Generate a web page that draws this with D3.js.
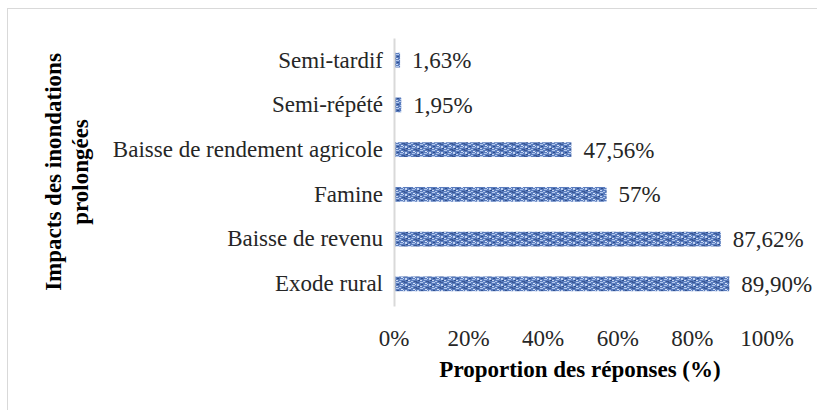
<!DOCTYPE html>
<html>
<head>
<meta charset="utf-8">
<script src="https://cdn.jsdelivr.net/npm/d3@7"></script>
<style>
  body { margin: 0; background: #fff; }
</style>
</head>
<body>
<div id="chart"></div>
<script>
// data
const categories = ["Semi-tardif", "Semi-répété", "Baisse de rendement agricole", "Famine", "Baisse de revenu", "Exode rural"];
const values = [1.63, 1.95, 47.56, 57, 87.62, 89.90];
const valueLabels = ["1,63%", "1,95%", "47,56%", "57%", "87,62%", "89,90%"];
const ticks = [0, 20, 40, 60, 80, 100];

const width = 817, height = 410;
const font = "'Liberation Serif', 'Times New Roman', serif";
const fs = 23;

const svg = d3.select("#chart").append("svg")
  .attr("width", width)
  .attr("height", height)
  .attr("font-family", font);

// chart area border
svg.append("rect")
  .attr("x", 7.5).attr("y", 8.5)
  .attr("width", 830).attr("height", 430)
  .attr("fill", "none")
  .attr("stroke", "#d9d9d9");

// texture for the bars
const defs = svg.append("defs");
const pat = defs.append("pattern")
  .attr("id", "tex")
  .attr("patternUnits", "userSpaceOnUse")
  .attr("width", 12).attr("height", 6);
pat.append("rect").attr("width", 12).attr("height", 6).attr("fill", "#5a7cbd");
const cells = [[0,0,3,1,"#b3c9ee"],[5,1,2,1,"#d3e0f7"],[8,0,3,1,"#3b5a9a"],[1,2,2,1,"#2f4f8f"],
               [4,3,3,1,"#a9c1ea"],[9,2,2,2,"#c0d2f1"],[0,4,2,1,"#cad9f4"],[6,5,3,1,"#3a5896"],
               [3,5,2,1,"#aec5ec"],[10,4,2,1,"#2d4d8c"],[7,2,1,1,"#c6d6f3"]];
cells.forEach(c => pat.append("rect").attr("x", c[0]).attr("y", c[1]).attr("width", c[2]).attr("height", c[3]).attr("fill", c[4]));

const x = d3.scaleLinear().domain([0, 100]).range([394, 767]);
const y = d3.scaleBand().domain(categories).range([38, 306]).paddingInner(0.67).paddingOuter(0.33);

// bars
svg.selectAll("rect.bar")
  .data(values)
  .enter().append("rect")
  .attr("class", "bar")
  .attr("x", x(0))
  .attr("y", (d, i) => y(categories[i]))
  .attr("width", d => x(d) - x(0))
  .attr("height", y.bandwidth())
  .attr("fill", "url(#tex)");

// value labels
svg.selectAll("text.val")
  .data(values)
  .enter().append("text")
  .attr("class", "val")
  .attr("x", d => x(d) + 12)
  .attr("y", (d, i) => y(categories[i]) + y.bandwidth() / 2)
  .attr("dy", "0.35em")
  .attr("font-size", fs)
  .attr("fill", "#262626")
  .text((d, i) => valueLabels[i]);

// y axis
const yAxis = svg.append("g")
  .attr("transform", `translate(${x(0)},0)`)
  .call(d3.axisLeft(y).tickSize(0).tickPadding(11));
yAxis.attr("font-family", font).attr("font-size", fs);
yAxis.select(".domain").attr("stroke", "#d9d9d9").attr("stroke-width", 2);
yAxis.selectAll("text").attr("fill", "#262626");

// x tick labels (no axis line)
svg.selectAll("text.tick")
  .data(ticks)
  .enter().append("text")
  .attr("class", "tick")
  .attr("x", d => x(d))
  .attr("y", 338)
  .attr("dy", "0.35em")
  .attr("text-anchor", "middle")
  .attr("font-size", fs)
  .attr("fill", "#262626")
  .text(d => d + "%");

// axis titles
svg.append("text")
  .attr("x", 580).attr("y", 369)
  .attr("dy", "0.35em")
  .attr("text-anchor", "middle")
  .attr("font-size", fs)
  .attr("font-weight", "bold")
  .attr("fill", "#000")
  .text("Proportion des réponses (%)");

const yt = svg.append("text")
  .attr("transform", "translate(61,172) rotate(-90)")
  .attr("text-anchor", "middle")
  .attr("font-size", fs)
  .attr("font-weight", "bold")
  .attr("fill", "#000");
yt.append("tspan").attr("x", 0).attr("y", 0).text("Impacts des inondations");
yt.append("tspan").attr("x", 0).attr("y", 27).text("prolongées");
</script>
</body>
</html>
